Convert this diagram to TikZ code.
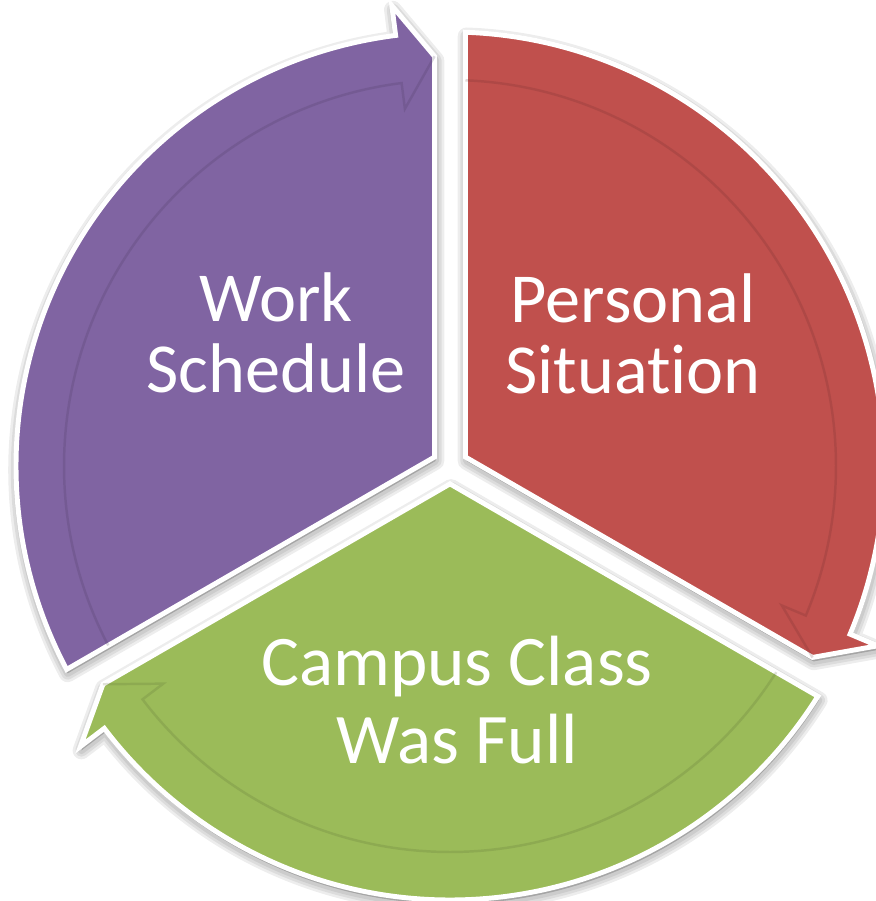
\documentclass[tikz,border=0pt]{standalone}
\usepackage{fontspec}
\setmainfont{Carlito}[Ligatures=NoCommon]
\usetikzlibrary{positioning}

\definecolor{wpurple}{HTML}{8064A2}
\definecolor{wred}{HTML}{C0504D}
\definecolor{wgreen}{HTML}{9BBB59}

% radii of the cycle (1 unit = 1 px)
\def\Ro{434}
\def\Ri{386}
\def\Rm{410}
\def\Rb{464}
\def\Rn{360}
\def\gap{15.5}
\newcommand{\setangles}[2]{%
  \pgfmathsetmacro{\as}{#1-asin(\gap/\Ro)}%
  \pgfmathsetmacro{\asi}{#1-asin(\gap/\Ri)}%
  \pgfmathsetmacro{\ab}{#2+7.2}%
  \pgfmathsetmacro{\at}{#2+asin(\gap/\Rm)}%
  \pgfmathsetmacro{\am}{(#1+#2)/2}%
  \pgfmathsetmacro{\dc}{\gap/sin(60)}}

\begin{document}
\begin{tikzpicture}[x=0.02cm, y=0.02cm,
    lbl/.style={text=white, align=center, inner sep=0pt},
    band/.style={draw=white, line width=2.8pt, line join=miter},
    rim/.style={line width=1.4pt, opacity=.18}]
  \useasboundingbox (-450,-435) rectangle (425,466);
  % soft shadows under the arrows
  \foreach \s/\e in {210/90, 90/-30, 330/210}{
    \setangles{\s}{\e}
    \foreach \w in {10,7,4}
      \filldraw[black, opacity=.07, line width=\w pt, line join=round, shift={(1,-4)}]
        (\am:\dc) -- (\as:\Ro) arc[start angle=\as, end angle=\ab, radius=\Ro]
        -- (\ab:\Rb) -- (\at:\Rm) -- cycle;
  }
  % the three arrows
  \foreach \s/\e/\c in {210/90/wpurple, 90/-30/wred, 330/210/wgreen}{
    \setangles{\s}{\e}
    \filldraw[band, fill=\c]
      (\am:\dc) -- (\as:\Ro) arc[start angle=\as, end angle=\ab, radius=\Ro]
      -- (\ab:\Rb) -- (\at:\Rm) -- cycle;
    \draw[rim, \c!50!black] (\asi:\Ri) arc[start angle=\asi, end angle=\ab, radius=\Ri]
      -- (\ab:\Rn) -- (\at:\Rm);
  }
  \node[lbl, font=\fontsize{40}{40}\selectfont] (work) at (-174,133) {Work\\Schedule};
  \node[lbl, font=\fontsize{40}{40}\selectfont] (personal) at (183,132) {Personal\\Situation};
  \node[lbl, font=\fontsize{40.5}{44.4}\selectfont] (campus) at (7,-234) {Campus Class\\Was Full};
\end{tikzpicture}
\end{document}
